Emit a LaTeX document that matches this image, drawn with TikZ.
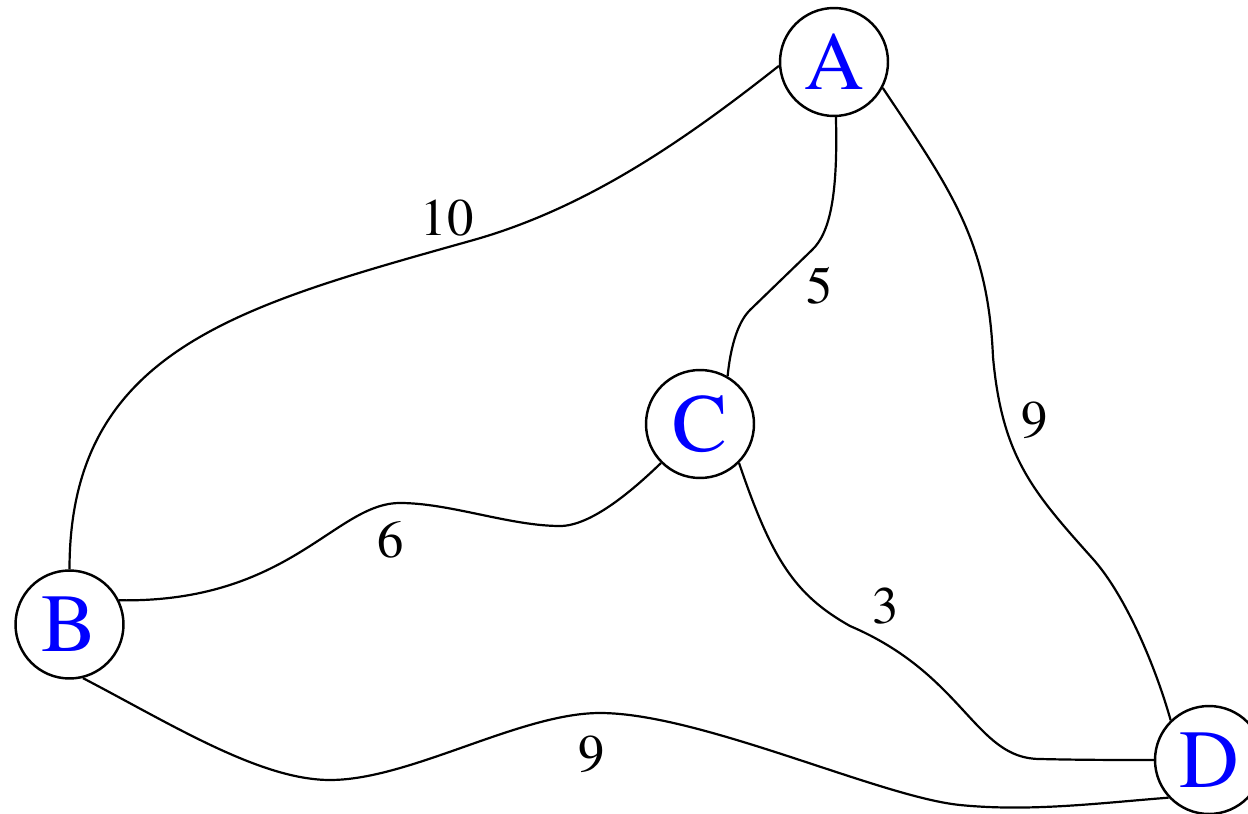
\documentclass[tikz,border=0pt]{standalone}
\usepackage{fontspec}
\IfFontExistsTF{texgyretermes-regular.otf}{\setmainfont{texgyretermes-regular.otf}}{\setmainfont{Liberation Serif}}
\begin{document}
\begin{tikzpicture}[x=0.02cm,y=-0.02cm,
  vertex/.style={circle,draw,line width=1.4pt,minimum size=2.16cm,inner sep=0pt,text=blue,font=\fontsize{47}{50}\selectfont},
  wlabel/.style={font=\fontsize{30}{34}\selectfont,inner sep=0pt},
  link/.style={line width=1.25pt}]
\useasboundingbox (0,0) rectangle (1248,814);
\node[vertex] (A) at (834,62) {A};
\node[vertex] (B) at (69.5,624.5) {B};
\node[vertex] (C) at (700,424) {C};
\node[vertex] (D) at (1209,760) {D};
% A - B
\draw[link] (A.184) .. controls (685,140) and (586,209) .. (470,241)
  .. controls (239,306) and (69.5,350) .. (B.90);
% A - C
\draw[link] (A.-88) .. controls (838,195) and (830,233) .. (812,250)
  -- (750,310) .. controls (736,324) and (730,352) .. (C.60);
% A - D
\draw[link] (A.-28) .. controls (950,189) and (988,240) .. (993,357)
  .. controls (1002,457) and (1033,492) .. (1093,559)
  .. controls (1126,596) and (1156,668) .. (D.134);
% B - C
\draw[link] (B.26) .. controls (290,603) and (335,503) .. (400,503)
  .. controls (450,503) and (510,526) .. (560,526)
  .. controls (590,526) and (630,493) .. (C.225);
% C - D
\draw[link] (C.-45) .. controls (772,560) and (795,595) .. (850,626)
  .. controls (965,675) and (975,759) .. (1040,759)
  .. controls (1080,760) and (1120,760) .. (D.180);
% B - D
\draw[link] (B.-76) .. controls (171,724) and (260,780) .. (330,780)
  .. controls (410,780) and (520,713) .. (600,713)
  .. controls (700,713) and (880,797) .. (960,805)
  .. controls (1030,812) and (1100,803) .. (D.223);
% labels
\node[wlabel] (l10) at (447,218) {10};
\node[wlabel] (l5) at (820,286) {5};
\node[wlabel] (l9a) at (1035,420) {9};
\node[wlabel] (l6) at (391,540) {6};
\node[wlabel] (l3) at (886,606) {3};
\node[wlabel] (l9b) at (592,754) {9};
\end{tikzpicture}
\end{document}
